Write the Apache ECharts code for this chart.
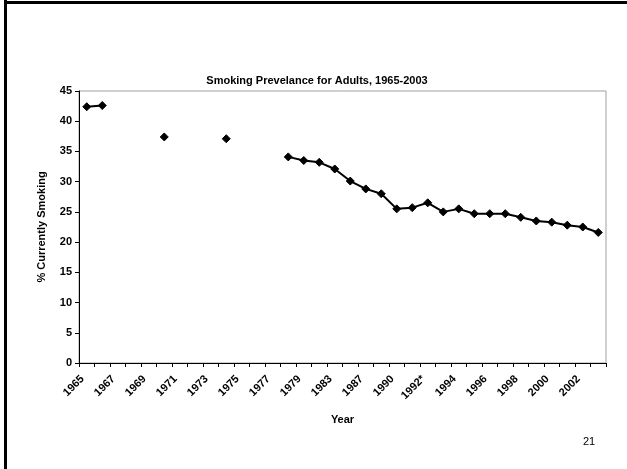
<!DOCTYPE html>
<html>
<head>
<meta charset="utf-8">
<script src="https://cdn.jsdelivr.net/npm/echarts@6/dist/echarts.min.js"></script>
<style>
  html, body { margin: 0; padding: 0; background: #fff; }
  #chart { width: 627px; height: 469px; }
</style>
</head>
<body>
<div id="chart"></div>
<script>
// Survey years on the category axis (every other one is labelled)
const years = [
  '1965', '1966', '1967', '1968', '1969', '1970', '1971', '1972', '1973', '1974',
  '1975', '1976', '1977', '1978', '1979', '1980', '1983', '1985', '1987', '1988',
  '1990', '1991', '1992*', '1993', '1994', '1995', '1996', '1997', '1998', '1999',
  '2000', '2001', '2002', '2003'
];

// Percent of adults currently smoking; '-' marks years with no survey
const smokingPct = [
  42.4, 42.6, '-', '-', '-', 37.4, '-', '-', '-', 37.1,
  '-', '-', '-', 34.1, 33.5, 33.2, 32.1, 30.1, 28.8, 28.0,
  25.5, 25.7, 26.5, 25.0, 25.5, 24.7, 24.7, 24.7, 24.1, 23.5,
  23.3, 22.8, 22.5, 21.6
];

const yTicks = { min: 0, max: 45, step: 5 };

const chart = echarts.init(document.getElementById('chart'), null, { renderer: 'canvas' });
const font = 'Arial, "Liberation Sans", sans-serif';

chart.setOption({
  animation: false,
  backgroundColor: '#ffffff',
  title: {
    text: 'Smoking Prevelance for Adults, 1965-2003',
    left: 312,
    top: 70,
    textAlign: 'center',
    textStyle: { fontFamily: font, fontSize: 11, fontWeight: 'bold', color: '#000' }
  },
  graphic: [
    // slide frame edges
    { type: 'rect', shape: { x: 4, y: 0, width: 3, height: 469 }, style: { fill: '#000' } },
    { type: 'rect', shape: { x: 4, y: 1, width: 623, height: 3 }, style: { fill: '#000' } },
    // slide number
    {
      type: 'text', left: 583, top: 436,
      style: { text: '21', font: '11px ' + font, fill: '#000' }
    }
  ],
  grid: {
    left: 79, right: 21, top: 91, bottom: 106,
    show: true, borderColor: '#a0a0a0', borderWidth: 1, backgroundColor: '#fff'
  },
  xAxis: {
    type: 'category',
    data: years,
    boundaryGap: true,
    name: 'Year',
    nameLocation: 'middle',
    nameGap: 51,
    nameTextStyle: { fontFamily: font, fontSize: 11, fontWeight: 'bold', color: '#000' },
    axisLine: { lineStyle: { color: '#000', width: 1 } },
    axisTick: { show: true, interval: 0, length: 4, inside: false, lineStyle: { color: '#000' } },
    axisLabel: {
      interval: 1,
      rotate: 45,
      margin: 10,
      padding: [0, 6, 0, 0],
      fontFamily: font, fontSize: 11, fontWeight: 'bold', color: '#000'
    },
    splitLine: { show: false }
  },
  yAxis: {
    type: 'value',
    min: yTicks.min,
    max: yTicks.max,
    interval: yTicks.step,
    name: '% Currently Smoking',
    nameLocation: 'middle',
    nameGap: 32,
    nameRotate: 90,
    nameTextStyle: { fontFamily: font, fontSize: 11, fontWeight: 'bold', color: '#000' },
    axisLine: { show: true, lineStyle: { color: '#000', width: 1 } },
    axisTick: { show: true, length: 4, lineStyle: { color: '#000' } },
    axisLabel: { margin: 7, fontFamily: font, fontSize: 11, fontWeight: 'bold', color: '#000' },
    splitLine: { show: false }
  },
  series: [{
    type: 'line',
    data: smokingPct,
    connectNulls: false,
    symbol: 'diamond',
    symbolSize: 8,
    showAllSymbol: true,
    lineStyle: { color: '#000', width: 2 },
    itemStyle: { color: '#000', borderColor: '#000' }
  }]
});
</script>
</body>
</html>
